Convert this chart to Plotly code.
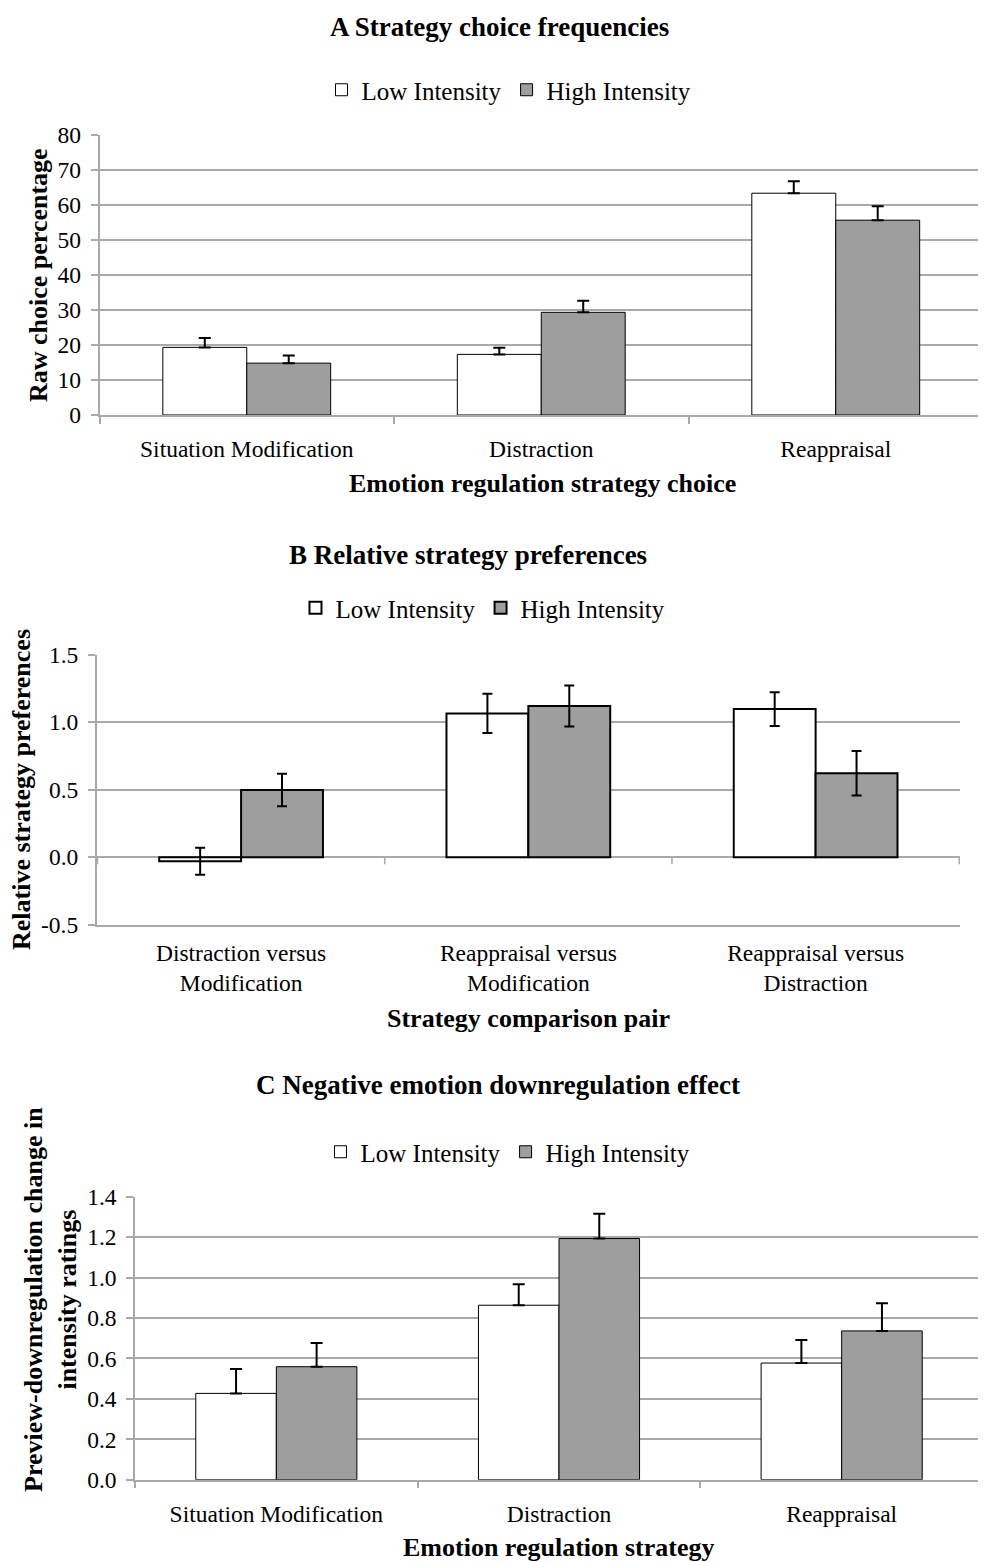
import plotly.graph_objects as go

# ---------------- data ----------------
series_names = ["Low Intensity", "High Intensity"]

a_categories = ["Situation Modification", "Distraction", "Reappraisal"]
a_low = [19.3, 17.3, 63.3]
a_low_err = [2.7, 1.9, 3.4]
a_high = [14.8, 29.3, 55.6]
a_high_err = [2.2, 3.3, 4.0]
a_yticks = [0, 10, 20, 30, 40, 50, 60, 70, 80]

b_categories = ["Distraction versus<br>Modification",
                "Reappraisal versus<br>Modification",
                "Reappraisal versus<br>Distraction"]
b_low = [-0.03, 1.065, 1.097]
b_low_err = [0.10, 0.145, 0.125]
b_high = [0.498, 1.12, 0.622]
b_high_err = [0.12, 0.152, 0.165]
b_yticks = [-0.5, 0.0, 0.5, 1.0, 1.5]
b_yticklabels = ["-0.5", "0.0", "0.5", "1.0", "1.5"]

c_categories = ["Situation Modification", "Distraction", "Reappraisal"]
c_low = [0.427, 0.863, 0.577]
c_low_err = [0.121, 0.104, 0.114]
c_high = [0.559, 1.193, 0.736]
c_high_err = [0.117, 0.123, 0.137]
c_yticks = [0.0, 0.2, 0.4, 0.6, 0.8, 1.0, 1.2, 1.4]

# ---------------- layout helpers ----------------
W, H = 986, 1562
OFF = 8  # page body margin offset
FONT = "Liberation Serif"
GRID = "#a9a9a9"
LOW_FILL = "#ffffff"
HIGH_FILL = "#9e9e9e"


def px_x(x):
    return (x - OFF) / W


def px_y(y):
    return 1 - (y - OFF) / H


# plot areas in pixels (page coords): (left, top, right, bottom)
A_BOX = (99.5, 134.7, 983, 415)
B_BOX = (96.7, 654.7, 960, 924.7)
C_BOX = (135, 1196.7, 983, 1479.7)

fig = go.Figure()


def add_pair(cats, low, low_err, high, high_err, xa, ya, leg, symmetric, lw, capw):
    for name, vals, errs, fill in [
        (series_names[0], low, low_err, LOW_FILL),
        (series_names[1], high, high_err, HIGH_FILL),
    ]:
        err = dict(type="data", array=errs, color="black", thickness=2, width=capw)
        if not symmetric:
            err.update(symmetric=False, arrayminus=[0] * len(errs))
        fig.add_trace(go.Bar(
            x=cats, y=vals, name=name, xaxis=xa, yaxis=ya, legend=leg,
            marker=dict(color=fill, line=dict(color="black", width=lw)),
            error_y=err,
        ))


add_pair(a_categories, a_low, a_low_err, a_high, a_high_err, "x", "y", "legend", False, 1, 6)
add_pair(b_categories, b_low, b_low_err, b_high, b_high_err, "x2", "y2", "legend2", True, 2, 5)
add_pair(c_categories, c_low, c_low_err, c_high, c_high_err, "x3", "y3", "legend3", False, 1, 6)

tickfont = dict(family=FONT, size=23.5, color="black")


def xaxis(box, anchor, showline=True, ticks="outside", standoff=12):
    return dict(
        domain=[px_x(box[0]), px_x(box[2])], anchor=anchor, type="category",
        tickson="boundaries", ticks=ticks, ticklen=7, tickwidth=1.5, tickcolor=GRID,
        showline=showline, linecolor=GRID, linewidth=1.5, showgrid=False,
        tickfont=tickfont, ticklabelstandoff=standoff, automargin=False,
    )


def yaxis(box, anchor, rng, tickvals, ticktext=None):
    d = dict(
        domain=[px_y(box[3]), px_y(box[1])], anchor=anchor, range=rng,
        tickvals=tickvals, ticks="outside", ticklen=7, tickwidth=1.5, tickcolor=GRID,
        showline=True, linecolor=GRID, linewidth=1.5, showgrid=True, gridcolor=GRID,
        gridwidth=1.5, zeroline=False, tickfont=tickfont, ticklabelstandoff=5,
        automargin=False,
    )
    if ticktext is not None:
        d["ticktext"] = ticktext
    return d


b_range = [-0.5, 1.5]
fig.update_layout(
    width=W, height=H,
    margin=dict(l=0, r=0, t=0, b=0, autoexpand=False),
    paper_bgcolor="white", plot_bgcolor="white",
    barmode="group", bargap=0.43, bargroupgap=0,
    font=dict(family=FONT, color="black"),
    xaxis=xaxis(A_BOX, "y", standoff=12),
    yaxis=yaxis(A_BOX, "x", [0, 80], a_yticks),
    xaxis2=xaxis(B_BOX, "y2", showline=True, ticks="", standoff=6),
    yaxis2=yaxis(B_BOX, "x2", b_range, b_yticks, b_yticklabels),
    xaxis3=xaxis(C_BOX, "y3", standoff=12),
    yaxis3=yaxis(C_BOX, "x3", [0, 1.4], c_yticks, [f"{v:.1f}" for v in c_yticks]),
)
fig.update_layout(yaxis2=dict(zeroline=True, zerolinecolor=GRID, zerolinewidth=1.5))

# tick marks on the B zero line at category boundaries
b_plot_h = B_BOX[3] - B_BOX[1]
tick_len_units = 7 * (b_range[1] - b_range[0]) / b_plot_h
for i in range(len(b_categories) + 1):
    fig.add_shape(type="line", xref="x2", yref="y2",
                  x0=i - 0.5, x1=i - 0.5, y0=0, y1=-tick_len_units,
                  line=dict(color=GRID, width=1.5))

legend_style = dict(
    orientation="h", xanchor="center", yanchor="middle",
    font=dict(family=FONT, size=25, color="black"),
    bgcolor="rgba(0,0,0,0)", itemwidth=30, traceorder="normal",
)
fig.update_layout(
    legend=dict(x=px_x(509), y=px_y(90), **legend_style),
    legend2=dict(x=px_x(483), y=px_y(608), **legend_style),
    legend3=dict(x=px_x(508), y=px_y(1152), **legend_style),
)

title_font = dict(family=FONT, size=27, color="black")
axis_title_font = dict(family=FONT, size=26, color="black")


def ann(text, x, y, font, angle=0):
    fig.add_annotation(text=text, xref="paper", yref="paper", x=px_x(x), y=px_y(y),
                       xanchor="center", yanchor="middle", showarrow=False,
                       font=font, textangle=angle)


ann("<b>A Strategy choice frequencies</b>", 499, 27, title_font)
ann("<b>B Relative strategy preferences</b>", 468, 555, title_font)
ann("<b>C Negative emotion downregulation effect</b>", 498, 1085, title_font)

ann("<b>Emotion regulation strategy choice</b>", 542, 484, axis_title_font)
ann("<b>Strategy comparison pair</b>", 528, 1019, axis_title_font)
ann("<b>Emotion regulation strategy</b>", 559, 1547, axis_title_font)

ann("<b>Raw choice percentage</b>", 38, 275, axis_title_font, -90)
ann("<b>Relative strategy preferences</b>", 22, 790, axis_title_font, -90)
ann("<b>Preview-downregulation change in<br>intensity ratings</b>", 50, 1300, axis_title_font, -90)

fig.write_html("out.html")
